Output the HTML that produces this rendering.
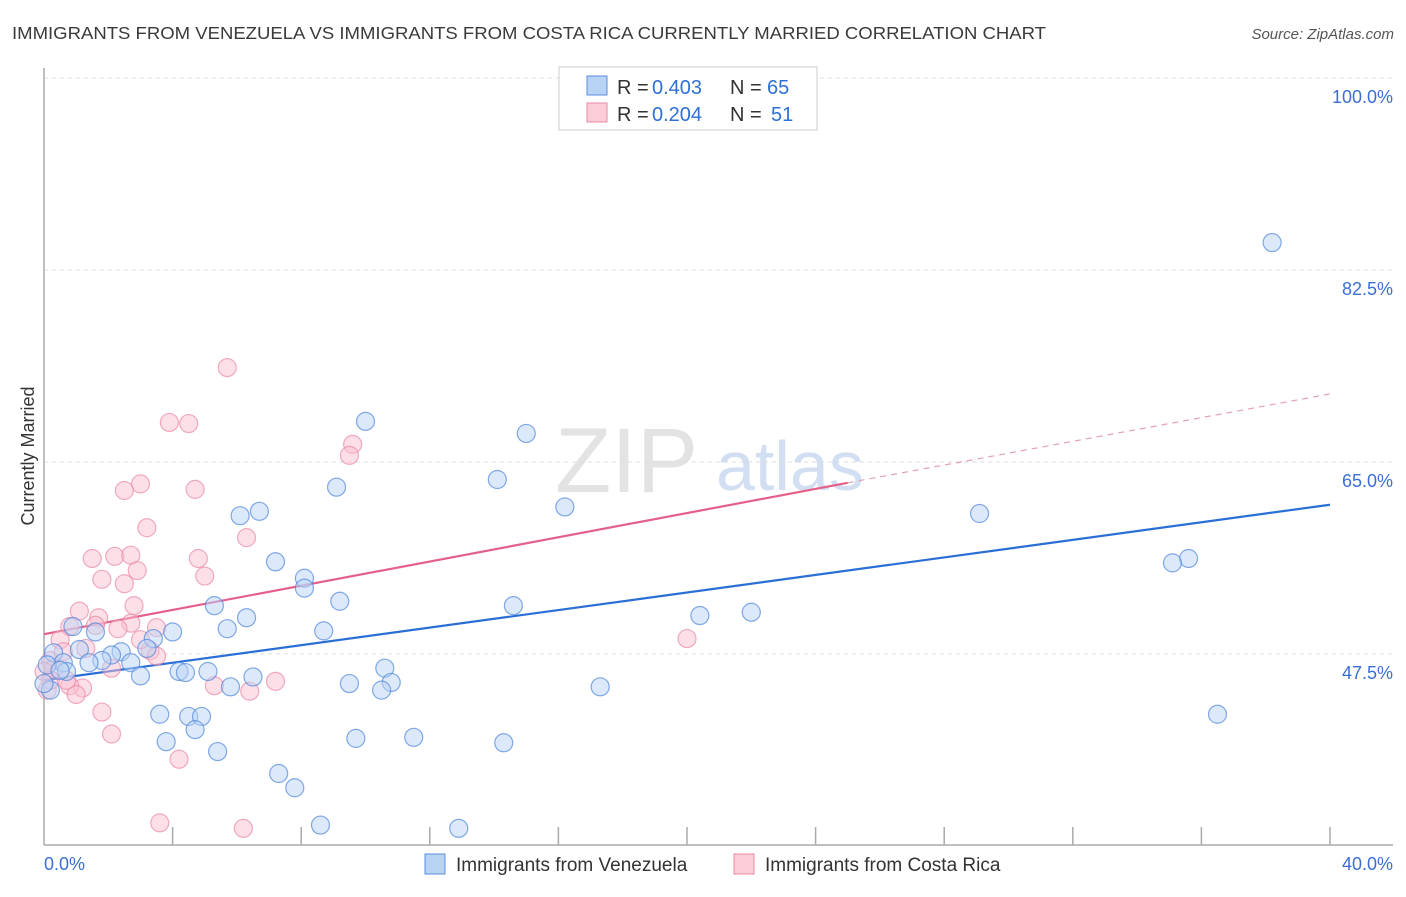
<!DOCTYPE html>
<html><head><meta charset="utf-8"><style>
body{margin:0;background:#fff;font-family:"Liberation Sans",sans-serif;}
svg text{font-family:"Liberation Sans",sans-serif;}
</style></head><body>
<svg id="chart" width="1406" height="892" xmlns="http://www.w3.org/2000/svg">
<text x="12" y="39" font-size="17.5" fill="#3a3a3a" textLength="1034" lengthAdjust="spacingAndGlyphs">IMMIGRANTS FROM VENEZUELA VS IMMIGRANTS FROM COSTA RICA CURRENTLY MARRIED CORRELATION CHART</text>
<text x="1394" y="39" font-size="15" fill="#555" text-anchor="end" font-style="italic">Source: ZipAtlas.com</text>
<text x="555" y="492" font-size="92" fill="#ddd" font-family="Liberation Serif" opacity="0.8">ZIP</text>
<text x="716" y="490" font-size="70" fill="#c8d8f0" opacity="0.8">atlas</text>
<g id="grid"></g>
<g id="axes"></g>
<g id="lines"></g>
<g id="pts"></g>
<text transform="translate(34,456) rotate(-90)" font-size="18" fill="#333" text-anchor="middle">Currently Married</text>
<text x="44" y="870" font-size="18" fill="#3b6fd4">0.0%</text>
<text x="1393" y="870" font-size="18" fill="#3b6fd4" text-anchor="end">40.0%</text>
<g>
<rect x="559" y="67" width="258" height="63" fill="#fff" stroke="#ccc"/>
<rect x="587" y="76" width="20" height="19" fill="#b9d3f5" stroke="#5b8ee0"/>
<rect x="587" y="103" width="20" height="19" fill="#fbcdd9" stroke="#e88aa6"/>
<text x="617" y="94" font-size="20" fill="#333">R =</text>
<text x="652" y="94" font-size="20" fill="#2e6fd8">0.403</text>
<text x="730" y="94" font-size="20" fill="#333">N =</text>
<text x="767" y="94" font-size="20" fill="#2e6fd8">65</text>
<text x="617" y="121" font-size="20" fill="#333">R =</text>
<text x="652" y="121" font-size="20" fill="#2e6fd8">0.204</text>
<text x="730" y="121" font-size="20" fill="#333">N =</text>
<text x="771" y="121" font-size="20" fill="#2e6fd8">51</text>
</g>
<g>
<rect x="425" y="854" width="20" height="20" fill="#b9d3f5" stroke="#5b8ee0"/>
<text x="456" y="871" font-size="19" fill="#333">Immigrants from Venezuela</text>
<rect x="734" y="854" width="20" height="20" fill="#fbcdd9" stroke="#e88aa6"/>
<text x="765" y="871" font-size="19" fill="#333">Immigrants from Costa Rica</text>
</g>
</svg>
<script>
const yTicks=[100,82.5,65,47.5];
const yTickLabels=["100.0%","82.5%","65.0%","47.5%"];
const xTicks=[4,8,12,16,20,24,28,32,36,40];
const blueX=[38.2,10.0,15.0,14.1,9.1,16.2,6.7,6.1,29.1,35.6,35.1,7.2,8.1,8.1,9.2,14.6,5.3,6.3,20.4,22.0,8.7,5.7,4.0,1.6,0.9,3.4,3.2,0.3,1.1,2.4,2.1,2.7,1.8,1.4,0.6,0.1,0.7,3.0,4.2,4.4,5.1,6.5,5.8,9.5,10.6,10.8,10.5,17.3,0.2,3.6,4.5,4.9,4.7,3.8,5.4,9.7,11.5,14.3,36.5,7.3,7.8,8.6,12.9,0.5,0.0];
const blueY=[85.0,68.7,67.6,63.4,62.7,60.9,60.5,60.1,60.3,56.2,55.8,55.9,54.4,53.5,52.3,51.9,51.9,50.8,51.0,51.3,49.6,49.8,49.5,49.5,50.0,48.9,48.0,47.6,47.9,47.7,47.4,46.7,46.9,46.7,46.7,46.5,45.9,45.5,45.9,45.8,45.9,45.4,44.5,44.8,46.2,44.9,44.2,44.5,44.2,42.0,41.8,41.8,40.6,39.5,38.6,39.8,39.9,39.4,42.0,36.6,35.3,31.9,31.6,46.0,44.8];
const pinkX=[5.7,3.9,4.5,9.6,9.5,3.0,2.5,4.7,3.2,6.3,1.5,4.8,2.2,2.7,2.9,5.0,1.8,2.5,2.8,1.1,1.7,0.8,2.7,2.3,3.5,20.0,0.5,1.3,3.3,3.5,2.1,0.2,0.3,0.0,7.2,5.3,6.4,1.2,0.8,1.0,1.8,2.1,4.2,3.6,6.2,0.1,0.2,0.6,3.0,1.6,0.7];
const pinkY=[73.6,68.6,68.5,66.6,65.6,63.0,62.4,62.5,59.0,58.1,56.2,56.2,56.4,56.5,55.1,54.6,54.3,53.9,51.9,51.4,50.8,50.0,50.3,49.8,49.9,48.9,48.8,48.0,47.8,47.3,46.2,46.9,46.2,45.9,45.0,44.6,44.1,44.4,44.6,43.8,42.2,40.2,37.9,32.1,31.6,44.2,45.1,47.7,48.8,50.1,45.1];
const blueTrend=[[0,45.1],[40,61.1]];
const pinkTrend=[[0,49.3],[25,63.1],[40,71.2]];
const NS="http://www.w3.org/2000/svg";
const X=v=>44+v*32.15, Y=v=>78+(100-v)*10.97;
function mk(t,a,p){const e=document.createElementNS(NS,t);for(const k in a)e.setAttribute(k,a[k]);p.appendChild(e);return e;}
const grid=document.getElementById('grid'),axes=document.getElementById('axes'),lines=document.getElementById('lines'),pts=document.getElementById('pts');
yTicks.forEach((t,i)=>{
 const l=mk('line',{x1:44,x2:1393,y1:Y(t),y2:Y(t),stroke:'#ddd','stroke-dasharray':'4,4'},grid);
 
 
 const tx=mk('text',{x:1393,y:Y(t)+25,'font-size':18,fill:'#3b6fd4','text-anchor':'end'},grid);tx.textContent=yTickLabels[i];
 
 
});
const ya=mk('line',{x1:44,x2:44,y1:68,y2:845,stroke:'#aaa','stroke-width':1.5},axes);


const xa=mk('line',{x1:44,x2:1393,y1:845,y2:845,stroke:'#aaa','stroke-width':1.5},axes);


xTicks.forEach(t=>{const l=mk('line',{x1:X(t),x2:X(t),y1:827,y2:845,stroke:'#aaa','stroke-width':1.5},axes);
 
 });
function dots(xs,ys,fill,stroke,name){xs.forEach((x,i)=>{const c=mk('circle',{cx:X(x),cy:Y(ys[i]),r:9,fill:fill,'fill-opacity':0.5,stroke:stroke,'stroke-opacity':0.7,'stroke-width':1.2},pts);
 
 });}
dots(pinkX,pinkY,'#f9bfd0','#e88aa6','costa-rica-point');
dots(blueX,blueY,'#b9d3f5','#4f86dc','venezuela-point');
const bl=mk('line',{x1:X(blueTrend[0][0]),y1:Y(blueTrend[0][1]),x2:X(blueTrend[1][0]),y2:Y(blueTrend[1][1]),stroke:'#2a6fd6','stroke-width':2.2},lines);


const pl=mk('line',{x1:X(pinkTrend[0][0]),y1:Y(pinkTrend[0][1]),x2:X(pinkTrend[1][0]),y2:Y(pinkTrend[1][1]),stroke:'#e4608a','stroke-width':2.2},lines);


const pd=mk('line',{x1:X(pinkTrend[1][0]),y1:Y(pinkTrend[1][1]),x2:X(pinkTrend[2][0]),y2:Y(pinkTrend[2][1]),stroke:'#e4a0b6','stroke-width':1.2,'stroke-dasharray':'6,5'},lines);


</script>
</body></html>
